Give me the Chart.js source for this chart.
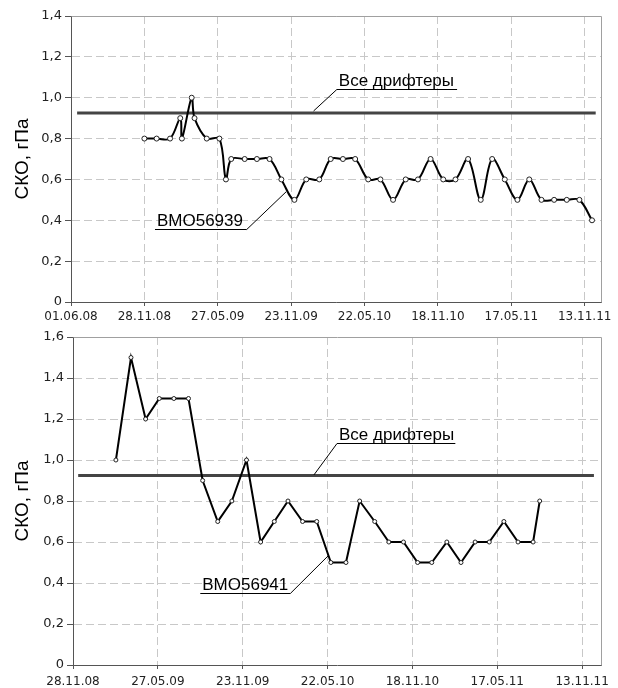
<!DOCTYPE html>
<html lang="ru">
<head>
<meta charset="UTF-8">
<title>СКО дрифтеров</title>
<script src="https://cdn.jsdelivr.net/npm/chart.js@4.4.0/dist/chart.umd.min.js"></script>
<style>
    body { margin: 0; background: #fff; }
    canvas { display: block; }
</style>
</head>
<body>
<canvas id="top" width="618" height="322"></canvas>
<canvas id="bottom" width="618" height="366"></canvas>
<script>
    // days are counted from 01.06.08
    const topDays = [180, 210, 243, 268, 272, 296, 303, 333, 364, 380, 393, 426, 456, 487, 516, 548, 577, 609, 637, 667,
        697, 729, 759, 790, 821, 851, 882, 913, 943, 974, 1005, 1033, 1064, 1095, 1124, 1154, 1185, 1216, 1247, 1278];
    const topValues = [0.8, 0.8, 0.8, 0.9, 0.8, 1.0, 0.9, 0.8, 0.8, 0.6, 0.7, 0.7, 0.7, 0.7, 0.6, 0.5, 0.6, 0.6, 0.7, 0.7,
        0.7, 0.6, 0.6, 0.5, 0.6, 0.6, 0.7, 0.6, 0.6, 0.7, 0.5, 0.7, 0.6, 0.5, 0.6, 0.5, 0.5, 0.5, 0.5, 0.4];

    const bottomDays = [271, 303, 334, 363, 394, 425, 455, 487, 517, 548, 578, 607, 636, 667, 697, 727, 759, 788, 820, 850,
        881, 911, 941, 973, 1003, 1033, 1063, 1094, 1124, 1156, 1170];
    const bottomValues = [1.0, 1.5, 1.2, 1.3, 1.3, 1.3, 0.9, 0.7, 0.8, 1.0, 0.6, 0.7, 0.8, 0.7, 0.7, 0.5, 0.5, 0.8, 0.7, 0.6,
        0.6, 0.5, 0.5, 0.6, 0.5, 0.6, 0.6, 0.7, 0.6, 0.6, 0.8];

    const allDrifters = 0.925;          // СКО по всем дрифтерам
    const topAllSpan = [15, 1287];
    const bottomAllSpan = [191, 1285];

    const yTitle = 'СКО, гПа';
    const allLabel = 'Все дрифтеры';
    const topLabel = 'BMO56939';
    const bottomLabel = 'BMO56941';

    const day0 = Date.UTC(2008, 5, 1);
    function pad(n) { return (n < 10 ? '0' : '') + n; }
    function dayLabel(d) {
        const t = new Date(day0 + d * 864e5);
        return pad(t.getUTCDate()) + '.' + pad(t.getUTCMonth() + 1) + '.' + String(t.getUTCFullYear()).slice(2);
    }
    function valueLabel(v) {
        return v === 0 ? '0' : v.toFixed(1).replace('.', ',');
    }
    function points(xs, ys) {
        return xs.map((d, i) => ({ x: d, y: ys[i] }));
    }

    // thin frame on top and right + callout labels with leader lines
    const frame = {
        id: 'frame',
        beforeDatasetsDraw(chart) {
            const { ctx, chartArea: a } = chart;
            ctx.save();
            ctx.strokeStyle = '#a0a0a0';
            ctx.lineWidth = 1;
            ctx.beginPath();
            ctx.moveTo(Math.round(a.left) + 0.5, Math.round(a.top) + 0.5);
            ctx.lineTo(Math.round(a.right) + 0.5, Math.round(a.top) + 0.5);
            ctx.lineTo(Math.round(a.right) + 0.5, Math.round(a.bottom) + 0.5);
            ctx.stroke();
            ctx.restore();
        }
    };
    const callouts = {
        id: 'callouts',
        afterDatasetsDraw(chart, args, opts) {
            const { ctx, scales: { x, y } } = chart;
            ctx.save();
            ctx.strokeStyle = '#000';
            ctx.fillStyle = '#000';
            ctx.lineWidth = 1;
            ctx.font = '17px "Liberation Sans", Arial, sans-serif';
            ctx.textAlign = 'left';
            ctx.textBaseline = 'alphabetic';
            (opts.items || []).forEach(c => {
                const tx = x.getPixelForValue(c.tip[0]), ty = y.getPixelForValue(c.tip[1]);
                const ex = x.getPixelForValue(c.elbow[0]), ey = Math.round(y.getPixelForValue(c.elbow[1])) + 0.5;
                const lx = x.getPixelForValue(c.end);
                ctx.beginPath();
                ctx.moveTo(tx, ty);
                ctx.lineTo(ex, ey);
                ctx.lineTo(lx, ey);
                ctx.stroke();
                ctx.fillText(c.text, Math.min(ex, lx) + 2, ey - 4);
            });
            ctx.restore();
        }
    };

    function makeChart(id, cfg) {
        return new Chart(document.getElementById(id), {
            type: 'line',
            data: {
                datasets: [
                    {
                        data: points(cfg.days, cfg.values),
                        borderColor: '#000',
                        borderWidth: 2,
                        tension: cfg.tension,
                        pointRadius: cfg.pointRadius,
                        pointBackgroundColor: '#fff',
                        pointBorderColor: '#222',
                        pointBorderWidth: 1
                    },
                    {
                        data: points(cfg.allSpan, [allDrifters, allDrifters]),
                        borderColor: '#444',
                        borderWidth: 3,
                        pointRadius: 0,
                        tension: 0
                    }
                ]
            },
            plugins: [frame, callouts],
            options: {
                responsive: false,
                animation: false,
                devicePixelRatio: 1,
                layout: { padding: { top: cfg.padTop, right: 17, left: 0, bottom: 0 } },
                plugins: {
                    legend: { display: false },
                    tooltip: { enabled: false },
                    callouts: { items: cfg.callouts }
                },
                scales: {
                    x: {
                        type: 'linear',
                        min: cfg.xMin,
                        max: 1300,
                        afterFit(s) { s.height = cfg.xHeight; },
                        ticks: {
                            stepSize: 180,
                            includeBounds: false,
                            autoSkip: false,
                            maxRotation: 0,
                            padding: cfg.xPad,
                            color: '#222',
                            font: { family: 'DejaVu Sans', size: 12 },
                            callback: v => dayLabel(v)
                        },
                        grid: { color: '#c8c8c8', tickColor: '#555', tickLength: 4 },
                        border: { color: '#555', dash: [8, 4] }
                    },
                    y: {
                        min: 0,
                        max: cfg.yMax,
                        afterFit(s) { s.width = cfg.yWidth; },
                        ticks: {
                            stepSize: 0.2,
                            padding: 3,
                            color: '#222',
                            font: { family: 'DejaVu Sans', size: 13 },
                            callback: v => valueLabel(v)
                        },
                        grid: { color: '#c8c8c8', tickColor: '#555', tickLength: 6 },
                        border: { color: '#555', dash: [8, 4] },
                        title: {
                            display: true,
                            text: yTitle,
                            color: '#000',
                            padding: { top: 11, bottom: 0 },
                            font: { family: 'Liberation Sans', size: 19 }
                        }
                    }
                }
            }
        });
    }

    makeChart('top', {
        days: topDays, values: topValues, allSpan: topAllSpan,
        tension: 0.35, pointRadius: 2.5,
        xMin: 0, yMax: 1.4, yWidth: 71, xHeight: 20, xPad: 4, padTop: 16,
        callouts: [
            { text: allLabel, tip: [595, 0.935], elbow: [652, 1.041], end: 947 },
            { text: topLabel, tip: [528, 0.54], elbow: [431, 0.356], end: 206 }
        ]
    });

    makeChart('bottom', {
        days: bottomDays, values: bottomValues, allSpan: bottomAllSpan,
        tension: 0, pointRadius: 2,
        xMin: 180, yMax: 1.6, yWidth: 73, xHeight: 23, xPad: 6, padTop: 15,
        callouts: [
            { text: allLabel, tip: [691, 0.927], elbow: [740, 1.083], end: 991 },
            { text: bottomLabel, tip: [721, 0.532], elbow: [641, 0.35], end: 450 }
        ]
    });
</script>
</body>
</html>
